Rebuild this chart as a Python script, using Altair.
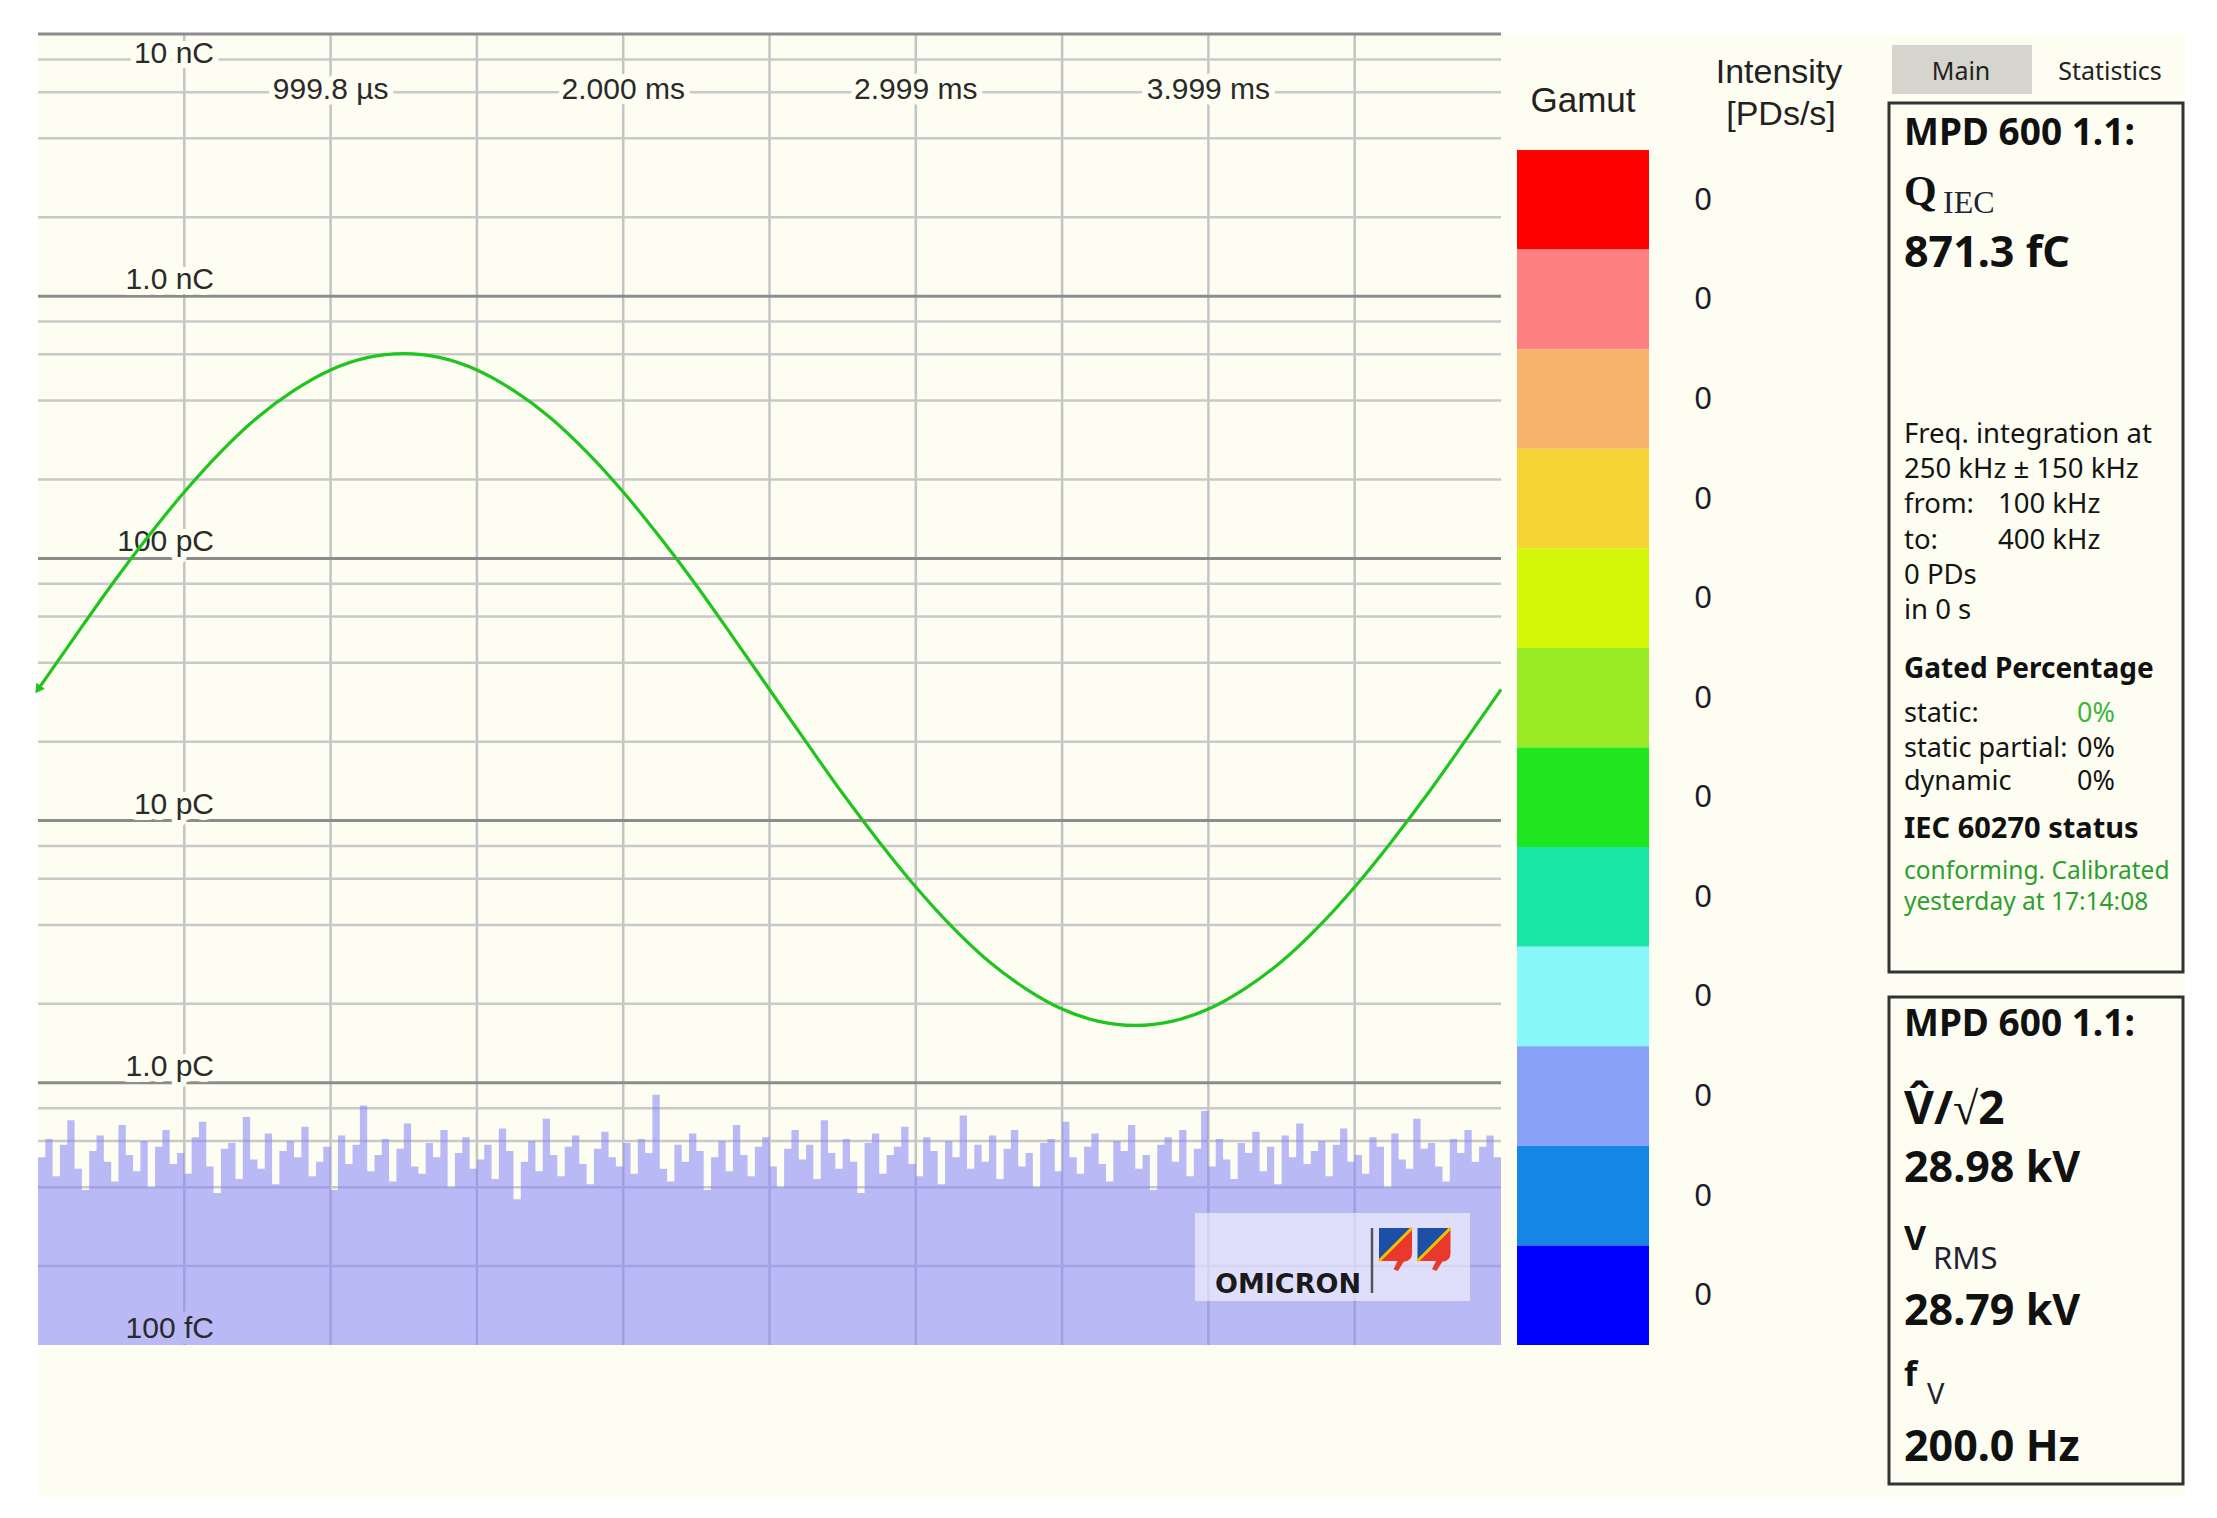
import altair as alt
import pandas as pd

# ------------------------------------------------------------------ values
X_TICK_MS = [1.0, 2.0, 3.0, 4.0]
X_TICK_LABELS = ["999.8 µs", "2.000 ms", "2.999 ms", "3.999 ms"]
X_GRID_MS = [0.5, 1.0, 1.5, 2.0, 2.5, 3.0, 3.5, 4.0, 4.5]

Y_DECADES_PC = [10000, 1000, 100, 10, 1, 0.1]
Y_DECADE_LABELS = ["10 nC", "1.0 nC", "100 pC", "10 pC", "1.0 pC", "100 fC"]
Y_MINOR_PC = [0.2, 0.4, 0.6, 0.8, 2, 4, 6, 8, 20, 40, 60, 80,
              200, 400, 600, 800, 2000, 4000, 6000, 8000]

V_TIME_MS = [0.0, 0.125, 0.25, 0.375, 0.5, 0.625, 0.75, 0.875, 1.0, 1.125,
             1.25, 1.375, 1.5, 1.625, 1.75, 1.875, 2.0, 2.125, 2.25, 2.375,
             2.5, 2.625, 2.75, 2.875, 3.0, 3.125, 3.25, 3.375, 3.5, 3.625,
             3.75, 3.875, 4.0, 4.125, 4.25, 4.375, 4.5, 4.625, 4.75, 4.875, 5.0]
V_KV = [0.0, 6.4, 12.7, 18.6, 24.1, 29.0, 33.2, 36.5, 39.0, 40.5,
        41.0, 40.5, 39.0, 36.5, 33.2, 29.0, 24.1, 18.6, 12.7, 6.4,
        0.0, -6.4, -12.7, -18.6, -24.1, -29.0, -33.2, -36.5, -39.0, -40.5,
        -41.0, -40.5, -39.0, -36.5, -33.2, -29.0, -24.1, -18.6, -12.7, -6.4, 0.0]

NOISE_PC = [
    0.52, 0.61, 0.44, 0.58, 0.72, 0.47, 0.39, 0.55, 0.63, 0.50, 0.42, 0.69, 0.53, 0.46, 0.60, 0.40, 0.57, 0.66, 0.49, 0.54,
    0.45, 0.62, 0.71, 0.48, 0.38, 0.56, 0.59, 0.43, 0.74, 0.51, 0.47, 0.64, 0.41, 0.55, 0.60, 0.52, 0.68, 0.44, 0.50, 0.57,
    0.39, 0.63, 0.49, 0.58, 0.82, 0.46, 0.53, 0.61, 0.42, 0.56, 0.70, 0.48, 0.45, 0.59, 0.52, 0.66, 0.40, 0.54, 0.62, 0.47,
    0.51, 0.58, 0.43, 0.67, 0.55, 0.36, 0.50, 0.60, 0.46, 0.73, 0.53, 0.44, 0.57, 0.63, 0.49, 0.41, 0.56, 0.65, 0.52, 0.48,
    0.59, 0.45, 0.61, 0.54, 0.90, 0.47, 0.42, 0.58, 0.50, 0.64, 0.55, 0.39, 0.52, 0.60, 0.46, 0.69, 0.53, 0.44, 0.57, 0.62,
    0.48, 0.40, 0.56, 0.66, 0.51, 0.58, 0.43, 0.72, 0.54, 0.47, 0.61, 0.50, 0.38, 0.59, 0.64, 0.45, 0.53, 0.57, 0.68, 0.49,
    0.44, 0.62, 0.55, 0.41, 0.60, 0.52, 0.75, 0.47, 0.58, 0.50, 0.63, 0.43, 0.56, 0.66, 0.48, 0.54, 0.40, 0.59, 0.61, 0.46,
    0.71, 0.52, 0.45, 0.57, 0.64, 0.49, 0.42, 0.60, 0.55, 0.69, 0.47, 0.53, 0.39, 0.58, 0.62, 0.50, 0.66, 0.44, 0.56, 0.78,
    0.48, 0.61, 0.51, 0.43, 0.59, 0.54, 0.65, 0.46, 0.57, 0.41, 0.63, 0.52, 0.70, 0.49, 0.55, 0.60, 0.44, 0.58, 0.67, 0.50,
    0.53, 0.45, 0.62, 0.57, 0.40, 0.64, 0.51, 0.47, 0.73, 0.56, 0.59, 0.48, 0.42, 0.61, 0.54, 0.66, 0.50, 0.57, 0.63, 0.52,
]

GAMUT_COLORS = ["#ff0000", "#ff8080", "#f8b36c", "#f5d535", "#d4f70a", "#99ec25",
                "#1fe61f", "#1ae6a5", "#88f7fa", "#88a0f8", "#1585e6", "#0000ff"]
INTENSITY_PDS = [0, 0, 0, 0, 0, 0, 0, 0, 0, 0, 0, 0]
GAMUT_TITLE = "Gamut"
INTENSITY_TITLE = ["Intensity", "[PDs/s]"]

TAB_LABELS = ["Main", "Statistics"]
BOX1_HEAD = "MPD 600 1.1:"
QIEC_SYMBOL, QIEC_SUB, QIEC_VALUE = "Q", "IEC", "871.3 fC"
FREQ_LINES = ["Freq. integration at", "250 kHz ± 150 kHz", "from:", "to:", "0 PDs", "in 0 s"]
FREQ_VALUES = ["", "", "100 kHz", "400 kHz", "", ""]
GATED_TITLE = "Gated Percentage"
GATED_NAMES = ["static:", "static partial:", "dynamic"]
GATED_VALUES = ["0%", "0%", "0%"]
IEC_TITLE = "IEC 60270 status"
IEC_STATUS = ["conforming. Calibrated", "yesterday at 17:14:08"]
BOX2_HEAD = "MPD 600 1.1:"
VPEAK_LABEL, VPEAK_VALUE = "V\u0302/\u221a2", "28.98 kV"
VRMS_SYMBOL, VRMS_SUB, VRMS_VALUE = "V", "RMS", "28.79 kV"
FV_SYMBOL, FV_SUB, FV_VALUE = "f", "V", "200.0 Hz"
LOGO_TEXT = "OMICRON"

# ------------------------------------------------------------------ layout / style
CREAM = "#fdfdf2"
AREA_TINT = "#b9b9f6"
INK = "#111111"
AX_INK = "#2a2a2a"
GREEN_TXT = "#2f9e2f"
AX_FONT = "Liberation Sans"
PANEL_FONT = "Noto Sans"

VIEW_W, VIEW_H = 2147, 1463
PLOT_W, PLOT_H = 1463, 1311

t_scale = alt.Scale(domain=[0, 5], range=[0, PLOT_W], nice=False, zero=False)
q_scale = alt.Scale(type="log", domain=[0.1, 10000], range=[PLOT_H, 0], nice=False)
v_scale = alt.Scale(domain=[-80, 80], range=[PLOT_H, 0], nice=False, zero=False)
g_scale = alt.Scale(domain=[0, 12], range=[116, 1311], nice=False, zero=False)

ONE = pd.DataFrame({"k": [0]})

X_T = alt.X("t:Q", scale=t_scale, axis=None)
Y_Q = alt.Y("q:Q", scale=q_scale, axis=None)

# ---- grid (the lowest decade is the plot's bottom edge and has no line)
vgrid = alt.Chart(pd.DataFrame({"t": X_GRID_MS})).mark_rule(
    color="#c4c4c4", strokeWidth=2.5).encode(x=X_T, y=alt.value(0), y2=alt.value(PLOT_H))
hminor = alt.Chart(pd.DataFrame({"q": Y_MINOR_PC})).mark_rule(
    color="#c9c9c9", strokeWidth=2.5).encode(y=Y_Q, x=alt.value(0), x2=alt.value(PLOT_W))
hmajor = alt.Chart(pd.DataFrame({"q": Y_DECADES_PC[:-1]})).mark_rule(
    color="#8c8c8c", strokeWidth=3).encode(y=Y_Q, x=alt.value(0), x2=alt.value(PLOT_W))

# ---- noise floor
n = len(NOISE_PC)
noise_df = pd.DataFrame({
    "t": [i * 5.0 / n for i in range(n)] + [5.0],
    "q": NOISE_PC + [NOISE_PC[-1]],
})
noise_df["base"] = Y_DECADES_PC[-1]
area = alt.Chart(noise_df).mark_area(
    interpolate="step-after", color="#8181f9", opacity=0.55).encode(
    x=X_T, y=Y_Q, y2="base:Q")

# ---- axis labels (text with knock-out halo)
def halo_pair(df, x_enc, y_enc, halo, **kw):
    h = alt.Chart(df).mark_text(font=AX_FONT, fontSize=30, color=halo, stroke=halo,
                                strokeWidth=12, strokeJoin="round", **kw).encode(
        x=x_enc, y=y_enc, text="text:N")
    t = alt.Chart(df).mark_text(font=AX_FONT, fontSize=30, color=AX_INK, **kw).encode(
        x=x_enc, y=y_enc, text="text:N")
    return [h, t]

ylab = pd.DataFrame({"q": Y_DECADES_PC, "text": Y_DECADE_LABELS})
YLAB_X = alt.value(176)
label_layers = []
label_layers += halo_pair(ylab.iloc[[0]], YLAB_X, Y_Q, CREAM, align="right", baseline="alphabetic", dy=29)
label_layers += halo_pair(ylab.iloc[1:5], YLAB_X, Y_Q, CREAM, align="right", baseline="alphabetic", dy=-7)
label_layers += halo_pair(ylab.iloc[[5]], YLAB_X, Y_Q, AREA_TINT, align="right", baseline="alphabetic", dy=-7)
xlab = pd.DataFrame({"t": X_TICK_MS, "text": X_TICK_LABELS})
label_layers += halo_pair(xlab, X_T, alt.value(56), CREAM, align="center", baseline="middle")

main = alt.layer(vgrid, hminor, hmajor, area, *label_layers)

# ---- helpers for annotation panels
def px_rect(x0, y0, x1, y1, **kw):
    return alt.Chart(ONE).mark_rect(**kw).encode(
        x=alt.value(x0), x2=alt.value(x1), y=alt.value(y0), y2=alt.value(y1))

def px_text(rows, size, font=PANEL_FONT, weight="normal", color=INK, align="left", baseline="alphabetic"):
    df = pd.DataFrame([r for r in rows if r[0] != ""], columns=["text", "px", "py"])
    return alt.Chart(df).mark_text(font=font, fontSize=size, fontWeight=weight, color=color,
                                   align=align, baseline=baseline).encode(
        x=alt.X("px:Q", scale=None, axis=None),
        y=alt.Y("py:Q", scale=None, axis=None),
        text="text:N")

# ---- OMICRON logo
FLAG_RED = "M1,-1L1,0.55Q1,1 0.5,1.05L0.15,1.6L-0.12,1.5L0.12,1L-1,1Z"
FLAG_BLUE = "M-1,-1L1,-1L-1,1Z"
FLAG_STRIPE = "M-1,1L1,-1"
flags = pd.DataFrame({"px": [1357.5, 1396.0], "py": [1210.5, 1210.5]})
FX = alt.X("px:Q", scale=None, axis=None)
FY = alt.Y("py:Q", scale=None, axis=None)
logo = [
    px_rect(1157, 1179, 1432, 1267, color="white", opacity=0.55),
    px_text([(LOGO_TEXT, 1177, 1259)], 27, font="DejaVu Sans", weight="bold", color="#1a1a1a"),
    alt.Chart(ONE).mark_rule(color="#555555", strokeWidth=2.5).encode(
        x=alt.value(1334), y=alt.value(1194), y2=alt.value(1259)),
    alt.Chart(flags).mark_point(shape=FLAG_RED, size=1089, filled=True, color="#e8392b",
                                opacity=1, strokeWidth=0).encode(x=FX, y=FY),
    alt.Chart(flags).mark_point(shape=FLAG_BLUE, size=1089, filled=True, color="#1d4fa6",
                                opacity=1, strokeWidth=0).encode(x=FX, y=FY),
    alt.Chart(flags).mark_point(shape=FLAG_STRIPE, size=1089, filled=False, color="#f2c200",
                                opacity=1, strokeWidth=3).encode(x=FX, y=FY),
]

# ---- voltage waveform
volt_df = pd.DataFrame({"t": V_TIME_MS, "kv": V_KV})
Y_V = alt.Y("kv:Q", scale=v_scale, axis=None)
volt = alt.layer(
    alt.Chart(volt_df).mark_line(color="#1fc41f", strokeWidth=3.2, interpolate="monotone").encode(x=X_T, y=Y_V),
    alt.Chart(volt_df.head(1)).mark_point(shape="triangle-up", angle=215, size=110, filled=True,
                                          color="#1fc41f", opacity=1).encode(x=X_T, y=Y_V),
)

# ---- gamut + intensity
gam = pd.DataFrame({"color": GAMUT_COLORS, "pds": INTENSITY_PDS})
gam["lo"] = range(len(gam))
gam["hi"] = gam["lo"] + 1
gam["mid"] = gam["lo"] + 0.5
gamut = alt.layer(
    alt.Chart(gam).mark_rect().encode(
        y=alt.Y("lo:Q", scale=g_scale, axis=None), y2="hi:Q",
        x=alt.value(1479), x2=alt.value(1611),
        color=alt.Color("color:N", scale=None)),
    alt.Chart(gam).mark_text(font=PANEL_FONT, fontSize=31, color="#1c1c2a", align="center",
                             baseline="middle", dy=1).encode(
        y=alt.Y("mid:Q", scale=g_scale, axis=None), x=alt.value(1665), text="pds:Q"),
)
gamut_titles = [
    px_text([(GAMUT_TITLE, 1545, 78)], 35, font=AX_FONT, color="#222222", align="center"),
    px_text([(INTENSITY_TITLE[0], 1741, 49), (INTENSITY_TITLE[1], 1743, 91)], 34,
            font=AX_FONT, color="#222222", align="center"),
]

# ---- right panel
LX = 1866
VX = 1960
GX = 2039
freq_base = [408.5, 444, 479, 514.5, 549.5, 584.5]
gated_base = [688, 723, 756]
panel = [
    px_rect(1854, 11, 1994, 60, color="#d5d5ce"),
    px_text([(TAB_LABELS[0], 1923, 46), (TAB_LABELS[1], 2072, 46)], 25, color="#222222", align="center"),
    px_rect(1851, 69, 2145, 938, fillOpacity=0, stroke="#333333", strokeWidth=3),
    px_rect(1851, 963, 2145, 1450, fillOpacity=0, stroke="#333333", strokeWidth=3),
    # box 1
    px_text([(BOX1_HEAD, LX, 111), (BOX2_HEAD, LX, 1002)], 37, weight="bold"),
    px_text([(QIEC_SYMBOL, LX, 171)], 42, font="Liberation Serif", weight="bold"),
    px_text([(QIEC_SUB, 1905, 179)], 32, font="Liberation Serif", color="#222233"),
    px_text([(QIEC_VALUE, LX, 233), (VPEAK_VALUE, LX, 1147.5), (VRMS_VALUE, LX, 1291),
             (FV_VALUE, LX, 1427)], 43, weight="bold"),
    px_text([(s, LX, y) for s, y in zip(FREQ_LINES, freq_base)] +
            [(s, VX, y) for s, y in zip(FREQ_VALUES, freq_base)], 27.5, color="#141414"),
    px_text([(GATED_TITLE, LX, 643.5)], 28, weight="bold"),
    px_text([(IEC_TITLE, LX, 804)], 29, weight="bold"),
    px_text([(s, LX, y) for s, y in zip(GATED_NAMES, gated_base)] +
            [(GATED_VALUES[1], GX, gated_base[1]), (GATED_VALUES[2], GX, gated_base[2])], 27, color="#141414"),
    px_text([(GATED_VALUES[0], GX, gated_base[0])], 27, color="#3db53d"),
    px_text([(IEC_STATUS[0], LX, 845), (IEC_STATUS[1], LX, 876)], 24.5, color=GREEN_TXT),
    # box 2
    px_text([(VPEAK_LABEL, LX, 1090)], 46, weight="bold"),
    px_text([(VRMS_SYMBOL, LX, 1216), (FV_SYMBOL, LX, 1352)], 34, weight="bold"),
    px_text([(VRMS_SUB, 1895, 1235)], 31, color="#222233"),
    px_text([(FV_SUB, 1889, 1370)], 29, color="#222233"),
]

chart = alt.layer(
    main, *logo, volt, gamut, *gamut_titles, *panel
).resolve_scale(
    x="independent", y="independent"
).properties(
    width=VIEW_W, height=VIEW_H,
    padding={"left": 30, "top": 26, "right": 0, "bottom": 0},
    autosize=alt.AutoSizeParams(type="none"),
    background="white",
).configure_view(fill=CREAM, stroke="transparent")

chart.save("out.html", embed_options={"renderer": "svg", "actions": False})
